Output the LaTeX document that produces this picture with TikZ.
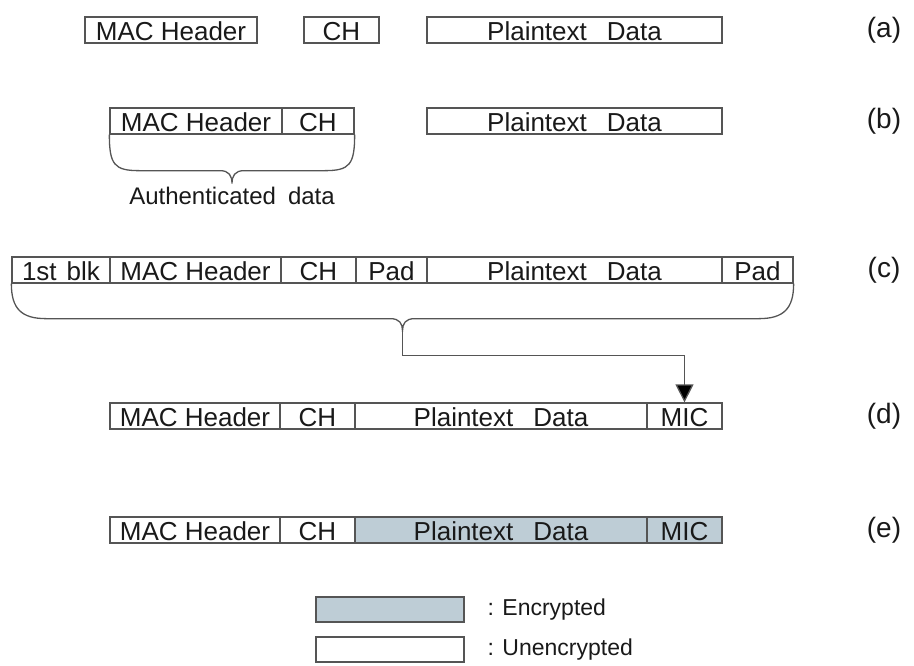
\documentclass[tikz,border=0pt]{standalone}
\usepackage{fontspec}
\setmainfont{Liberation Sans}
\usepackage{tikz}
\usetikzlibrary{calc}
\usetikzlibrary{arrows.meta}
\definecolor{linegray}{RGB}{85,85,85}
\definecolor{encfill}{RGB}{190,205,214}
\tikzset{field/.style={draw=linegray,line width=1.3pt,minimum height=26pt,inner sep=0pt,
  text height=21pt,text depth=0pt,text=black!90,font=\fontsize{26}{30}\selectfont}}
\tikzset{encfield/.style={field,fill=encfill}}

\begin{document}
\begin{tikzpicture}[x=1pt,y=-1pt]
\tikzstyle{brace} = [draw=linegray, line width=1.3pt]
\tikzstyle{flow} = [brace, -{Triangle[width=18pt,length=18pt,fill=black]}]
\tikzstyle{tag} = [text=black!90, font=\fontsize{28}{32}\selectfont]
\tikzstyle{keytext} = [text=black!90, font=\fontsize{23}{27}\selectfont, anchor=west]
\useasboundingbox (0,0) rectangle (914,665);

% (a)
\node[field, minimum width=172pt] (amac) at (171,30) {MAC Header};
\node[field, minimum width=75pt] (ach) at (341.5,30) {CH};
\node[field, minimum width=295pt] (adata) at (574.5,30) {Plaintext\hspace{20pt}Data};
\node[tag] (la) at (884,30) {(a)};

% (b)
\node[field, minimum width=172pt] (bmac) at (196,121) {MAC Header};
\node[field, minimum width=72pt] (bch) at (318,121) {CH};
\node[field, minimum width=295pt] (bdata) at (574.5,121) {Plaintext\hspace{20pt}Data};
\node[tag] (lb) at (884,121) {(b)};
\coordinate (btip) at ($(bmac.south west)!.5!(bch.south east)+(0,49)$);
\draw[brace] (bmac.south west) .. controls +(0,30) and +(-25,0) .. ++(30,36)
  -- ($(btip)+(-12,-13)$) .. controls +(9,0) and +(0,-8) .. (btip)
  .. controls +(0,-8) and +(-9,0) .. ($(btip)+(12,-13)$)
  -- ($(bch.south east)+(-30,36)$) .. controls +(25,0) and +(0,30) .. (bch.south east);
\node[text=black!90, font=\fontsize{24}{28}\selectfont, anchor=base] (auth)
  at ($(btip)+(0,21)$) {Authenticated\hspace{12pt}data};

% (c)
\node[field, minimum width=98pt] (cblk) at (61,270) {1st\hspace{10pt}blk};
\node[field, minimum width=171pt] (cmac) at (195.5,270) {MAC Header};
\node[field, minimum width=75pt] (cch) at (318.5,270) {CH};
\node[field, minimum width=71pt] (cpad) at (391.5,270) {Pad};
\node[field, minimum width=295pt] (cdata) at (574.5,270) {Plaintext\hspace{20pt}Data};
\node[field, minimum width=71pt] (cpadb) at (757.5,270) {Pad};
\node[tag] (lc) at (884,270) {(c)};
\coordinate (ctip) at ($(cblk.south west)!.5!(cpadb.south east)+(0,47)$);
\draw[brace] (cblk.south west) .. controls +(0,25) and +(-25,0) .. ++(35,35)
  -- ($(ctip)+(-12,-12)$) .. controls +(9,0) and +(0,-7) .. (ctip)
  .. controls +(0,-7) and +(-9,0) .. ($(ctip)+(12,-12)$)
  -- ($(cpadb.south east)+(-35,35)$) .. controls +(25,0) and +(0,25) .. (cpadb.south east);

% (d)
\node[field, minimum width=170pt] (dmac) at (195,416) {MAC Header};
\node[field, minimum width=75pt] (dch) at (317.5,416) {CH};
\node[field, minimum width=292pt] (ddata) at (501,416) {Plaintext\hspace{20pt}Data};
\node[field, minimum width=75pt] (dmic) at (684.5,416) {MIC};
\node[tag] (ld) at (884,416) {(d)};
\draw[flow] (ctip) -- ++(0,25) -| (dmic.north);

% (e)
\node[field, minimum width=170pt] (emac) at (195,530) {MAC Header};
\node[field, minimum width=75pt] (ech) at (317.5,530) {CH};
\node[encfield, minimum width=292pt] (edata) at (501,530) {Plaintext\hspace{20pt}Data};
\node[encfield, minimum width=75pt] (emic) at (684.5,530) {MIC};
\node[tag] (le) at (884,530) {(e)};

% key
\node[encfield, minimum width=148pt, minimum height=25pt] (kenc) at (390,609.5) {};
\node[keytext] (kenctext) at (484,609.5) {: Encrypted};
\node[field, minimum width=148pt, minimum height=25pt] (kplain) at (390,649.5) {};
\node[keytext] (kplaintext) at (484,649.5) {: Unencrypted};
\end{tikzpicture}
\end{document}
